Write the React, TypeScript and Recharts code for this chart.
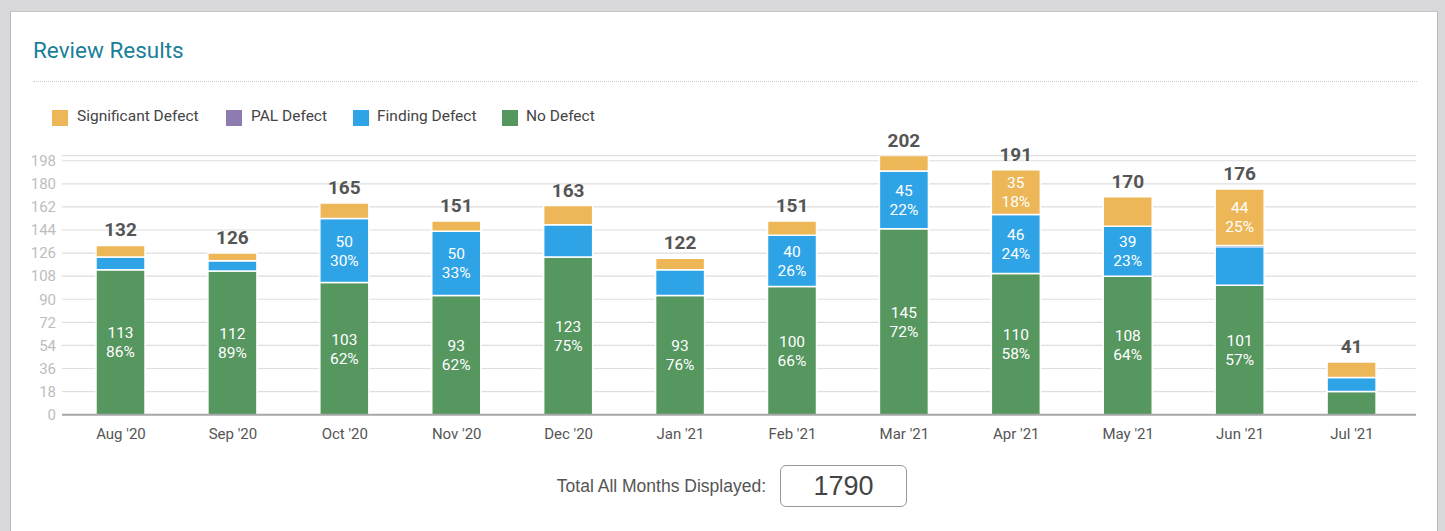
import { BarChart, Bar, XAxis, YAxis, CartesianGrid, LabelList } from 'recharts'

const months = ["Aug '20", "Sep '20", "Oct '20", "Nov '20", "Dec '20", "Jan '21", "Feb '21", "Mar '21", "Apr '21", "May '21", "Jun '21", "Jul '21"]
const noDefect = [113, 112, 103, 93, 123, 93, 100, 145, 110, 108, 101, 18]
const findingDefect = [10, 8, 50, 50, 25, 20, 40, 45, 46, 39, 30, 11]
const palDefect = [0, 0, 0, 0, 0, 0, 0, 0, 0, 0, 1, 0]
const significantDefect = [9, 6, 12, 8, 15, 9, 11, 12, 35, 23, 44, 12]
const yTicks = [0, 18, 36, 54, 72, 90, 108, 126, 144, 162, 180, 198]

const legendItems = [
  { name: 'Significant Defect', color: '#EDB657', left: 52, textLeft: 77 },
  { name: 'PAL Defect', color: '#8E7BB0', left: 226, textLeft: 251 },
  { name: 'Finding Defect', color: '#2EA3E6', left: 353, textLeft: 377 },
  { name: 'No Defect', color: '#56965F', left: 502, textLeft: 526 },
]

const totals = months.map(
  (_, i) => noDefect[i] + findingDefect[i] + palDefect[i] + significantDefect[i]
)
const grandTotal = totals.reduce((a, b) => a + b, 0)

const data = months.map((month, i) => ({
  month,
  noDefect: noDefect[i],
  finding: findingDefect[i],
  pal: palDefect[i],
  significant: significantDefect[i],
  total: totals[i],
}))

const font = 'Roboto, "Noto Sans", sans-serif'

function segmentLabel(props: any) {
  const { x, y, width, height, value, index } = props
  if (value == null || value < 35) return null
  const cx = Number(x) + Number(width) / 2
  const cy = Number(y) + Number(height) / 2
  const pct = Math.round((value / totals[index]) * 100)
  return (
    <g>
      <text x={cx} y={cy - 9} textAnchor="middle" dominantBaseline="central" fill="#fff" fontSize={15.5} fontFamily={font}>
        {value}
      </text>
      <text x={cx} y={cy + 10} textAnchor="middle" dominantBaseline="central" fill="#fff" fontSize={15.5} fontFamily={font}>
        {pct}%
      </text>
    </g>
  )
}

function totalLabel(props: any) {
  const { x, y, width, index } = props
  const cx = Number(x) + Number(width) / 2
  return (
    <text x={cx} y={Number(y) - 9} textAnchor="middle" fill="#555" fontSize={19} fontWeight={700} fontFamily={font}>
      {totals[index]}
    </text>
  )
}

export default function App() {
  return (
    <div style={{ position: 'absolute', left: 0, top: 0, width: 1445, height: 531, background: '#d9d9dc', overflow: 'hidden', fontFamily: font }}>
      <div
        style={{
          position: 'absolute',
          left: 10,
          top: 11,
          width: 1426,
          height: 530,
          background: '#fff',
          borderLeft: '1px solid #b9b9bd',
          borderTop: '1px solid #c4c4c8',
          borderRight: '1px solid #b9b9bd',
        }}
      />
      <div style={{ position: 'absolute', left: 33, top: 36, fontSize: 22.5, color: '#1A7F98', lineHeight: '28px' }}>
        Review Results
      </div>
      <div style={{ position: 'absolute', left: 33, top: 81, width: 1384, borderTop: '1px dotted #c8c8c8' }} />
      {legendItems.map((item) => (
        <div key={item.name}>
          <div style={{ position: 'absolute', left: item.left, top: 110, width: 16, height: 16, background: item.color }} />
          <div style={{ position: 'absolute', left: item.textLeft, top: 106, fontSize: 15.5, color: '#444', lineHeight: '20px' }}>
            {item.name}
          </div>
        </div>
      ))}
      <div style={{ position: 'absolute', left: 0, top: 0 }}>
        <BarChart
          width={1445}
          height={531}
          data={data}
          margin={{ top: 155.6, right: 29, bottom: 86.3, left: 10 }}
          barSize={49}
        >
          <CartesianGrid vertical={false} stroke="#dedede" strokeWidth={1.2} />
          <XAxis
            dataKey="month"
            height={30}
            tickLine={false}
            axisLine={{ stroke: '#a8a8a8', strokeWidth: 2 }}
            tickMargin={8}
            padding={{ left: 3, right: 8 }}
            tick={{ fill: '#555', fontSize: 15, fontFamily: font }}
            interval={0}
          />
          <YAxis
            width={52}
            domain={[0, 202]}
            ticks={yTicks}
            tickLine={false}
            axisLine={false}
            tickMargin={0}
            allowDataOverflow
            tick={{ fill: '#bdbdbd', fontSize: 15, fontFamily: font }}
          />
          <Bar dataKey="noDefect" stackId="a" fill="#56965F" stroke="#fff" strokeWidth={1.5} isAnimationActive={false}>
            <LabelList dataKey="noDefect" content={segmentLabel} />
          </Bar>
          <Bar dataKey="finding" stackId="a" fill="#2EA3E6" stroke="#fff" strokeWidth={1.5} isAnimationActive={false}>
            <LabelList dataKey="finding" content={segmentLabel} />
          </Bar>
          <Bar dataKey="pal" stackId="a" fill="#8E7BB0" stroke="#fff" strokeWidth={0.5} isAnimationActive={false} />
          <Bar dataKey="significant" stackId="a" fill="#EDB657" stroke="#fff" strokeWidth={1.5} isAnimationActive={false}>
            <LabelList dataKey="significant" content={segmentLabel} />
            <LabelList dataKey="significant" content={totalLabel} />
          </Bar>
        </BarChart>
      </div>
      <div style={{ position: 'absolute', left: 480, top: 475, width: 286, textAlign: 'right', fontSize: 17.5, color: '#555', fontFamily: '"Liberation Sans", Arial, sans-serif', lineHeight: '22px' }}>
        Total All Months Displayed:
      </div>
      <div
        style={{
          position: 'absolute',
          left: 780,
          top: 465,
          width: 125,
          height: 40,
          border: '1px solid #999',
          borderRadius: 6,
          textAlign: 'center',
          lineHeight: '40px',
          fontSize: 27,
          color: '#444',
          fontFamily: '"Liberation Sans", Arial, sans-serif',
        }}
      >
        {grandTotal}
      </div>
    </div>
  )
}
